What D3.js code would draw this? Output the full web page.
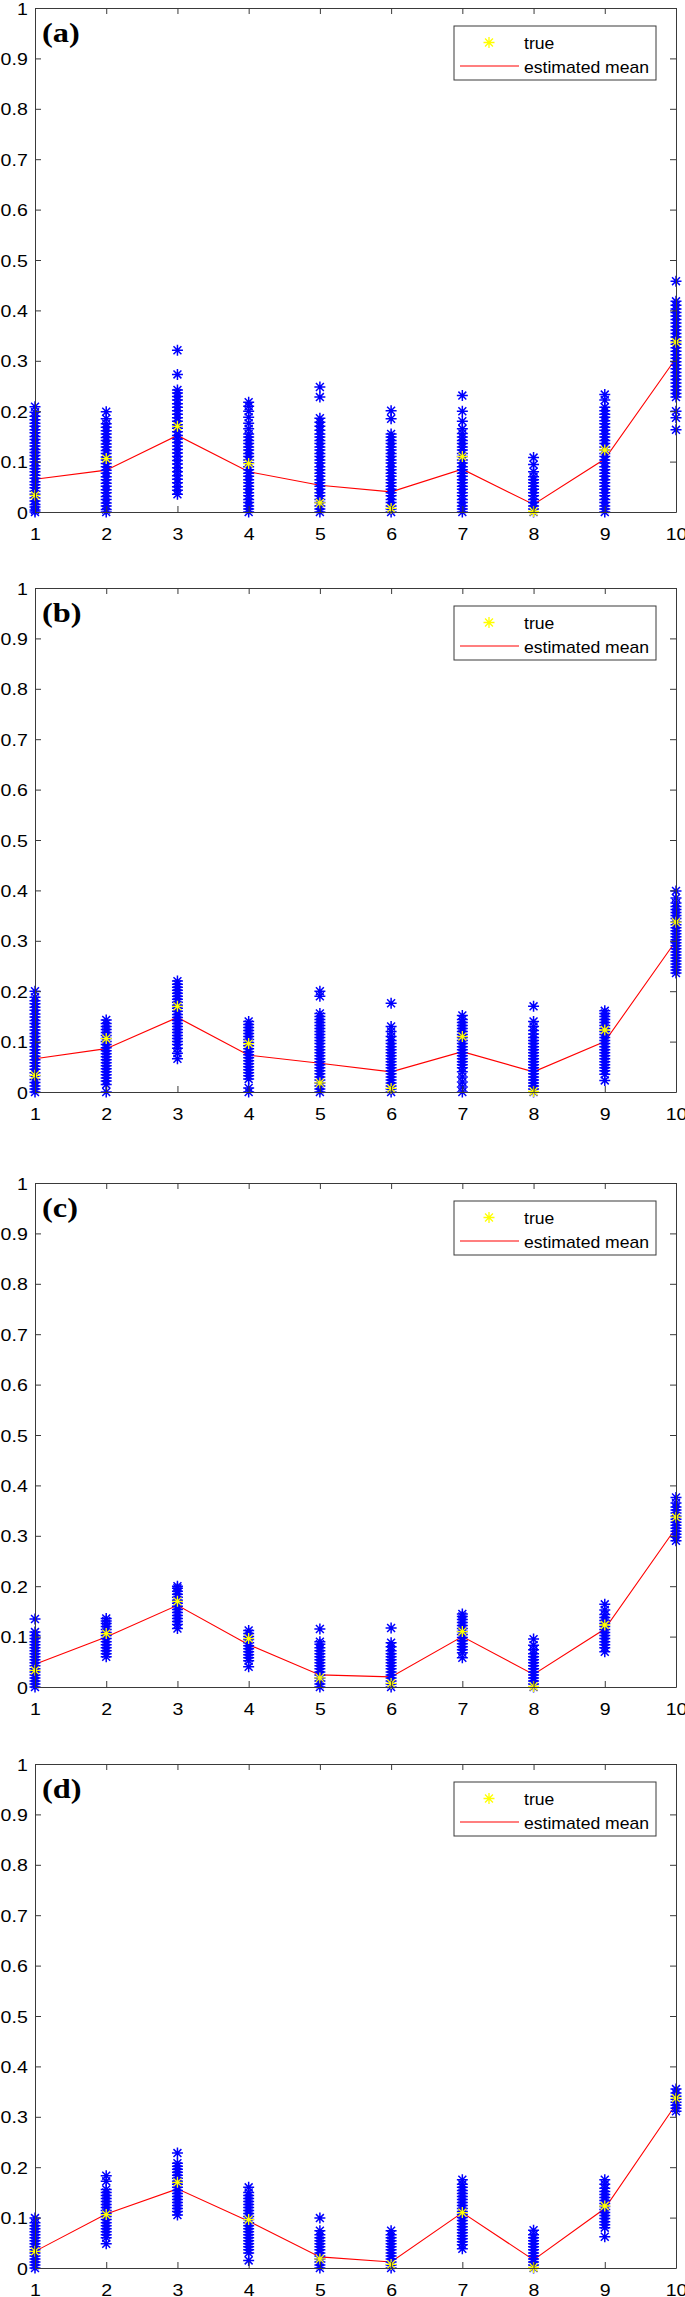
<!DOCTYPE html>
<html>
<head>
<meta charset="utf-8">
<script src="https://cdn.jsdelivr.net/npm/d3@7"></script>
<style>
  body { margin: 0; background: #fff; }
  svg { display: block; }
</style>
</head>
<body>
<svg id="svg"></svg>
<script>
var w = 685, h = 2297;

// x categories and tick labels
var categories = [1, 2, 3, 4, 5, 6, 7, 8, 9, 10];
var yTicks = [0, 0.1, 0.2, 0.3, 0.4, 0.5, 0.6, 0.7, 0.8, 0.9, 1];
var panelLabels = ["(a)", "(b)", "(c)", "(d)"];
var legendLabels = ["true", "estimated mean"];

// true value, same in every panel
var trueVals = [0.033, 0.106, 0.17, 0.096, 0.018, 0.007, 0.11, 0.001, 0.123, 0.337];

// estimated mean, one array per panel
var meanA = [0.065, 0.083, 0.152, 0.08, 0.053, 0.04, 0.085, 0.015, 0.105, 0.305];
var meanB = [0.066, 0.086, 0.148, 0.073, 0.057, 0.04, 0.08, 0.04, 0.1, 0.3];
var meanC = [0.045, 0.099, 0.162, 0.084, 0.024, 0.02, 0.1, 0.025, 0.115, 0.316];
var meanD = [0.033, 0.107, 0.157, 0.093, 0.022, 0.012, 0.11, 0.016, 0.118, 0.325];

// blue samples, one list per category
var samplesA = [
  [0,0.004,0.01,0.015,0.022,0.028,0.035,0.041,0.048,0.054,0.06,0.067,0.073,0.08,0.086,0.092,0.099,0.105,0.112,0.118,0.124,0.131,0.137,0.144,0.15,0.157,0.163,0.17,0.176,0.183,0.19,0.198,0.209],
  [0,0.005,0.012,0.018,0.025,0.031,0.038,0.044,0.051,0.057,0.064,0.07,0.077,0.083,0.09,0.096,0.103,0.109,0.116,0.122,0.129,0.135,0.142,0.148,0.155,0.161,0.168,0.175,0.185,0.199],
  [0.035,0.043,0.05,0.058,0.065,0.072,0.08,0.088,0.095,0.102,0.11,0.117,0.124,0.131,0.138,0.145,0.152,0.159,0.166,0.173,0.18,0.187,0.194,0.201,0.208,0.215,0.222,0.229,0.236,0.242,0.273,0.321],
  [0,0.006,0.012,0.019,0.025,0.032,0.038,0.045,0.051,0.058,0.064,0.071,0.077,0.084,0.09,0.097,0.103,0.11,0.116,0.123,0.129,0.136,0.142,0.149,0.155,0.165,0.176,0.188,0.2,0.21,0.218],
  [0,0.006,0.012,0.019,0.025,0.032,0.038,0.045,0.051,0.058,0.064,0.071,0.077,0.084,0.09,0.097,0.103,0.11,0.116,0.123,0.129,0.136,0.142,0.149,0.155,0.162,0.17,0.178,0.186,0.228,0.248],
  [0,0.006,0.012,0.019,0.025,0.032,0.038,0.045,0.051,0.058,0.064,0.071,0.077,0.084,0.09,0.097,0.103,0.11,0.116,0.123,0.129,0.136,0.142,0.149,0.155,0.185,0.201],
  [0,0.006,0.012,0.019,0.025,0.032,0.038,0.045,0.051,0.058,0.064,0.071,0.077,0.084,0.09,0.097,0.103,0.11,0.116,0.123,0.129,0.136,0.142,0.149,0.156,0.165,0.18,0.2,0.231],
  [0,0.006,0.012,0.019,0.025,0.032,0.038,0.045,0.051,0.058,0.064,0.07,0.08,0.094,0.108],
  [0,0.006,0.012,0.019,0.025,0.032,0.038,0.045,0.051,0.058,0.064,0.071,0.077,0.084,0.09,0.097,0.103,0.11,0.116,0.123,0.129,0.136,0.142,0.149,0.155,0.162,0.168,0.175,0.181,0.188,0.194,0.201,0.208,0.222,0.233],
  [0.163,0.187,0.2,0.228,0.235,0.242,0.249,0.256,0.263,0.27,0.277,0.284,0.291,0.298,0.305,0.312,0.319,0.326,0.333,0.34,0.347,0.354,0.361,0.368,0.375,0.382,0.389,0.396,0.403,0.41,0.418,0.458]
];
var samplesB = [
  [0,0.006,0.012,0.019,0.025,0.032,0.038,0.045,0.051,0.058,0.064,0.071,0.077,0.084,0.09,0.097,0.103,0.11,0.116,0.123,0.129,0.136,0.142,0.149,0.155,0.162,0.168,0.175,0.181,0.188,0.2],
  [0,0.015,0.022,0.028,0.034,0.04,0.046,0.052,0.058,0.064,0.07,0.076,0.082,0.088,0.094,0.1,0.106,0.112,0.118,0.124,0.13,0.136,0.143],
  [0.066,0.077,0.087,0.094,0.1,0.106,0.112,0.118,0.124,0.13,0.136,0.142,0.148,0.154,0.16,0.166,0.172,0.178,0.184,0.19,0.196,0.202,0.208,0.214,0.22],
  [0,0.008,0.026,0.032,0.038,0.044,0.05,0.056,0.062,0.068,0.074,0.08,0.086,0.092,0.098,0.104,0.11,0.116,0.122,0.128,0.134,0.14],
  [0,0.006,0.012,0.018,0.024,0.03,0.036,0.042,0.048,0.054,0.06,0.066,0.072,0.078,0.084,0.09,0.096,0.102,0.108,0.114,0.12,0.126,0.132,0.138,0.144,0.15,0.156,0.19,0.2],
  [0,0.006,0.012,0.018,0.024,0.03,0.036,0.042,0.048,0.054,0.06,0.066,0.072,0.078,0.084,0.09,0.096,0.102,0.11,0.12,0.13,0.176],
  [0,0.01,0.02,0.03,0.04,0.048,0.054,0.06,0.066,0.072,0.078,0.084,0.09,0.096,0.102,0.108,0.114,0.12,0.126,0.132,0.138,0.144,0.152],
  [0,0.006,0.012,0.018,0.024,0.03,0.036,0.042,0.048,0.054,0.06,0.066,0.072,0.078,0.084,0.09,0.096,0.102,0.108,0.115,0.122,0.13,0.14,0.17],
  [0.023,0.035,0.042,0.048,0.054,0.06,0.066,0.072,0.078,0.084,0.09,0.096,0.102,0.108,0.114,0.12,0.126,0.132,0.138,0.144,0.15,0.156,0.161],
  [0.236,0.242,0.248,0.254,0.26,0.266,0.272,0.278,0.284,0.29,0.296,0.302,0.308,0.314,0.32,0.326,0.332,0.338,0.344,0.35,0.356,0.362,0.368,0.375,0.385,0.399]
];
var samplesC = [
  [0,0.006,0.012,0.018,0.024,0.03,0.036,0.042,0.048,0.054,0.06,0.066,0.072,0.078,0.084,0.09,0.096,0.102,0.109,0.135],
  [0.06,0.066,0.072,0.078,0.084,0.09,0.096,0.102,0.108,0.114,0.12,0.126,0.131,0.136],
  [0.116,0.124,0.13,0.136,0.142,0.148,0.154,0.16,0.166,0.172,0.178,0.184,0.19,0.196,0.2],
  [0.04,0.052,0.058,0.064,0.07,0.076,0.082,0.088,0.094,0.1,0.106,0.112],
  [0,0.006,0.012,0.018,0.024,0.03,0.036,0.042,0.048,0.054,0.06,0.066,0.072,0.078,0.085,0.09,0.115],
  [0,0.006,0.012,0.018,0.024,0.03,0.036,0.042,0.048,0.054,0.06,0.066,0.072,0.08,0.088,0.117],
  [0.058,0.068,0.074,0.08,0.086,0.092,0.098,0.104,0.11,0.116,0.122,0.128,0.134,0.14,0.145],
  [0,0.006,0.012,0.018,0.024,0.03,0.036,0.042,0.048,0.054,0.06,0.066,0.074,0.083,0.095],
  [0.07,0.078,0.084,0.09,0.096,0.102,0.108,0.114,0.12,0.126,0.132,0.138,0.144,0.153,0.164],
  [0.29,0.297,0.303,0.309,0.315,0.321,0.327,0.333,0.339,0.345,0.351,0.357,0.365,0.376]
];
var samplesD = [
  [0,0.006,0.012,0.018,0.024,0.03,0.036,0.042,0.048,0.054,0.06,0.066,0.072,0.078,0.084,0.09,0.099],
  [0.048,0.06,0.066,0.072,0.078,0.084,0.09,0.096,0.102,0.108,0.114,0.12,0.126,0.132,0.138,0.144,0.15,0.156,0.172,0.183],
  [0.105,0.112,0.118,0.124,0.13,0.136,0.142,0.148,0.154,0.16,0.166,0.172,0.178,0.184,0.19,0.196,0.202,0.208,0.228],
  [0.015,0.03,0.036,0.042,0.048,0.054,0.06,0.066,0.072,0.078,0.084,0.09,0.096,0.102,0.108,0.114,0.12,0.126,0.132,0.138,0.144,0.15,0.16],
  [0,0.006,0.012,0.018,0.024,0.03,0.036,0.042,0.048,0.054,0.06,0.066,0.074,0.099],
  [0,0.006,0.012,0.018,0.024,0.03,0.036,0.042,0.048,0.054,0.06,0.066,0.074],
  [0.038,0.046,0.052,0.058,0.064,0.07,0.076,0.082,0.088,0.094,0.1,0.106,0.112,0.118,0.124,0.13,0.136,0.142,0.148,0.154,0.16,0.166,0.175],
  [0,0.006,0.012,0.018,0.024,0.03,0.036,0.042,0.048,0.054,0.06,0.066,0.075],
  [0.062,0.08,0.086,0.092,0.098,0.104,0.11,0.116,0.122,0.128,0.134,0.14,0.146,0.152,0.158,0.166,0.175],
  [0.311,0.317,0.323,0.329,0.335,0.341,0.347,0.355]
];

var panels = [
  {label: panelLabels[0], top: 8,    mean: meanA, samples: samplesA},
  {label: panelLabels[1], top: 588,  mean: meanB, samples: samplesB},
  {label: panelLabels[2], top: 1183, mean: meanC, samples: samplesC},
  {label: panelLabels[3], top: 1764, mean: meanD, samples: samplesD}
];

var left = 35, right = 676, ph = 504;
var sansFont = "'Liberation Sans', Arial, Helvetica, sans-serif";
var axisColor = "#3a3a3a";

// asterisk marker like matlab '*'
function star(r)
{
    var d = r * 0.72;
    return "M" + (-r) + ",0H" + r + "M0," + (-r) + "V" + r +
        "M" + (-d) + "," + (-d) + "L" + d + "," + d +
        "M" + (-d) + "," + d + "L" + d + "," + (-d);
}

var svg = d3.select("#svg")
    .attr("width", w)
    .attr("height", h)
    .attr("xmlns", "http://www.w3.org/2000/svg");

svg.append("rect")
    .attr("width", w)
    .attr("height", h)
    .attr("fill", "#fff");

var x = d3.scaleLinear().domain([1, 10]).range([left, right]);

function drawPanel(p)
{
    var y = d3.scaleLinear().domain([0, 1]).range([p.top + ph, p.top]);
    var g = svg.append("g");

    // mean line sits under the samples
    var line = d3.line()
        .x(function(d, i){ return x(categories[i]); })
        .y(function(d){ return y(d); });
    g.append("path")
        .datum(p.mean)
        .attr("d", line)
        .attr("fill", "none")
        .attr("stroke", "#ff0000")
        .attr("stroke-width", 1.1);

    // blue samples
    var pts = [];
    p.samples.forEach(function(col, i){
        col.forEach(function(v){ pts.push({c: categories[i], v: v}); });
    });
    g.append("g").selectAll("path")
        .data(pts)
        .enter().append("path")
        .attr("d", star(5.5))
        .attr("transform", function(d){ return "translate(" + x(d.c) + "," + y(d.v) + ")"; })
        .attr("fill", "none")
        .attr("stroke", "#0000ff")
        .attr("stroke-width", 1.5);

    // true values
    g.append("g").selectAll("path")
        .data(trueVals)
        .enter().append("path")
        .attr("d", star(5.5))
        .attr("transform", function(d, i){ return "translate(" + x(categories[i]) + "," + y(d) + ")"; })
        .attr("fill", "none")
        .attr("stroke", "#ffff00")
        .attr("stroke-width", 1.3);

    // axes, ticks pointing inward on all four sides
    var bottom = g.append("g")
        .attr("transform", "translate(0," + (p.top + ph) + ")")
        .call(d3.axisBottom(x).tickValues(categories).tickSizeInner(-6).tickSizeOuter(0).tickPadding(16));
    var top = g.append("g")
        .attr("transform", "translate(0," + p.top + ")")
        .call(d3.axisTop(x).tickValues(categories).tickSizeInner(-6).tickSizeOuter(0).tickFormat(""));
    var leftAx = g.append("g")
        .attr("transform", "translate(" + left + ",0)")
        .call(d3.axisLeft(y).tickValues(yTicks).tickSizeInner(-6).tickSizeOuter(0).tickPadding(6.3)
            .tickFormat(function(d){ return d === 0 || d === 1 ? String(d) : d.toFixed(1); }));
    var rightAx = g.append("g")
        .attr("transform", "translate(" + right + ",0)")
        .call(d3.axisRight(y).tickValues(yTicks).tickSizeInner(-6).tickSizeOuter(0).tickFormat(""));

    [bottom, top, leftAx, rightAx].forEach(function(a){
        a.select(".domain").attr("stroke", axisColor);
        a.selectAll(".tick line").attr("stroke", axisColor);
        a.selectAll("text")
            .attr("fill", "#000")
            .style("font-family", sansFont)
            .style("font-size", "17px")
            .attr("transform", "scale(1.15,1)");
    });
    leftAx.selectAll("text").attr("dy", "0.36em");

    // panel letter
    g.append("text")
        .attr("transform", "translate(" + (left + 7) + "," + (p.top + 34) + ") scale(1.2,1)")
        .style("font-family", "'Liberation Serif', 'Times New Roman', serif")
        .style("font-weight", "bold")
        .style("font-size", "27px")
        .text(p.label);

    // legend
    var lg = g.append("g").attr("transform", "translate(454," + (p.top + 18) + ")");
    lg.append("rect")
        .attr("width", 202)
        .attr("height", 54)
        .attr("fill", "#fff")
        .attr("stroke", axisColor)
        .attr("stroke-width", 1);
    lg.append("path")
        .attr("d", star(5.5))
        .attr("transform", "translate(35,16.5)")
        .attr("fill", "none")
        .attr("stroke", "#ffff00")
        .attr("stroke-width", 1.3);
    lg.append("line")
        .attr("x1", 6).attr("x2", 65)
        .attr("y1", 40).attr("y2", 40)
        .attr("stroke", "#ff0000")
        .attr("stroke-width", 1.1);
    lg.selectAll("text.lab")
        .data(legendLabels)
        .enter().append("text")
        .attr("class", "lab")
        .attr("transform", function(d, i){ return "translate(70," + (i === 0 ? 22.5 : 46.5) + ") scale(1.1,1)"; })
        .style("font-family", sansFont)
        .style("font-size", "16px")
        .text(function(d){ return d; });
}

panels.forEach(drawPanel);
</script>
</body>
</html>
